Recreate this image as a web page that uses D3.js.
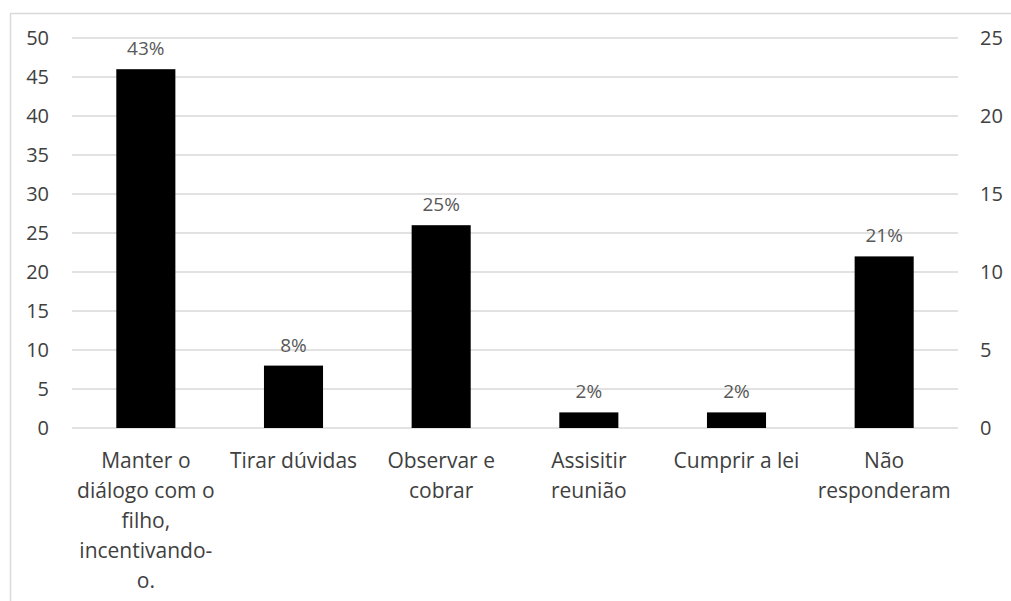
<!DOCTYPE html>
<html><head><meta charset="utf-8">
<script src="https://cdn.jsdelivr.net/npm/d3@7"></script>
<style>body{margin:0;background:#fff}svg{display:block}</style>
</head><body>
<svg id="c" width="1011" height="601"></svg>
<script>
const categories = ["Manter o\ndiálogo com o\nfilho,\nincentivando-\no.", "Tirar dúvidas", "Observar e\ncobrar", "Assisitir\nreunião", "Cumprir a lei", "Não\nresponderam"];
const values = [46, 8, 26, 2, 2, 22];
const percentLabels = ["43%", "8%", "25%", "2%", "2%", "21%"];
const leftTicks = [0, 5, 10, 15, 20, 25, 30, 35, 40, 45, 50];
const rightTicks = [0, 5, 10, 15, 20, 25];

const svg = d3.select("#c");
const font = "'Open Sans', sans-serif";
const m = {left: 72, right: 958, top: 38, bottom: 428};

// frame
svg.append("path").attr("d", "M10.5,601 V13.5 H1011").attr("fill", "none").attr("stroke", "#d9d9d9").attr("stroke-width", 1.5);

const x = d3.scaleBand().domain(categories).range([m.left, m.right]).paddingInner(0.6).paddingOuter(0.3);
const y = d3.scaleLinear().domain([0, 50]).range([m.bottom, m.top]);
const y2 = d3.scaleLinear().domain([0, 25]).range([m.bottom, m.top]);

// gridlines
svg.append("g").selectAll("line").data(leftTicks).join("line")
  .attr("x1", m.left).attr("x2", m.right)
  .attr("y1", d => y(d)).attr("y2", d => y(d))
  .attr("stroke", "#d9d9d9").attr("stroke-width", 1.5);

// left axis
const ga = svg.append("g").attr("transform", `translate(${m.left},0)`)
  .call(d3.axisLeft(y).tickValues(leftTicks).tickSize(0).tickPadding(23));
ga.select(".domain").remove();
ga.selectAll("text").attr("font-family", font).attr("font-size", 20).attr("fill", "#404040");

// right axis
const gb = svg.append("g").attr("transform", `translate(${m.right},0)`)
  .call(d3.axisRight(y2).tickValues(rightTicks).tickSize(0).tickPadding(22));
gb.select(".domain").remove();
gb.selectAll("text").attr("font-family", font).attr("font-size", 20).attr("fill", "#404040");

// bars
svg.append("g").selectAll("rect").data(values).join("rect")
  .attr("x", (d, i) => x(categories[i]))
  .attr("width", x.bandwidth())
  .attr("y", d => y(d))
  .attr("height", d => y(0) - y(d))
  .attr("fill", "#000");

// value labels
svg.append("g").selectAll("text").data(values).join("text")
  .attr("x", (d, i) => x(categories[i]) + x.bandwidth() / 2)
  .attr("y", d => y(d) - 14)
  .attr("text-anchor", "middle")
  .attr("font-family", font).attr("font-size", 19).attr("fill", "#595959")
  .text((d, i) => percentLabels[i]);

// category labels
const cl = svg.append("g").selectAll("text").data(categories).join("text")
  .attr("text-anchor", "middle")
  .attr("font-family", font).attr("font-size", 21).attr("fill", "#404040");
cl.each(function(d) {
  const t = d3.select(this);
  const cx = x(d) + x.bandwidth() / 2;
  d.split("\n").forEach((line, i) => {
    t.append("tspan").attr("x", cx).attr("y", 468 + i * 30).text(line);
  });
});
</script>
</body></html>
